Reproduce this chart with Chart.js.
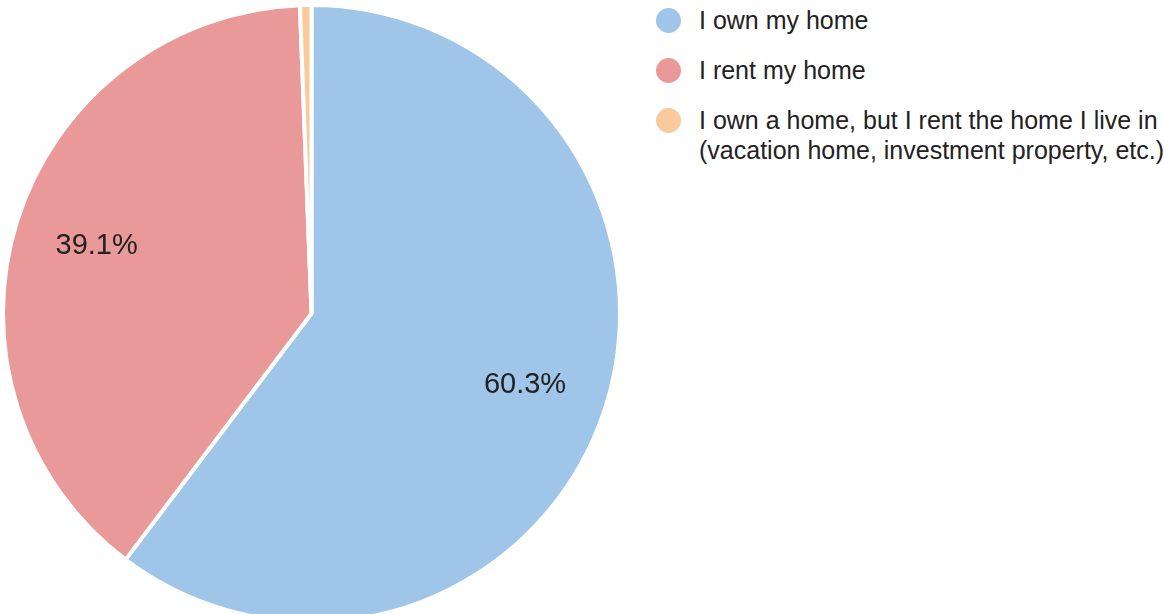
<!DOCTYPE html>
<html>
<head>
<meta charset="utf-8">
<script src="https://cdn.jsdelivr.net/npm/chart.js@4.4.1/dist/chart.umd.min.js"></script>
<style>
  html, body { margin: 0; padding: 0; background: #fff; overflow: hidden; }
  body { width: 1164px; height: 614px; position: relative; font-family: "Liberation Sans", Arial, sans-serif; }
  #wrap { position: absolute; left: 1px; top: 3px; width: 621px; height: 621px; }
  #legend { position: absolute; left: 656px; top: 5px; color: #222; font-size: 25px; }
  .item { position: relative; padding-left: 43px; line-height: 30px; margin-bottom: 20px; }
  .dot { position: absolute; left: 0; top: 3px; width: 25px; height: 25px; border-radius: 50%; }
</style>
</head>
<body>
<div id="wrap"><canvas id="pie"></canvas></div>
<div id="legend"></div>
<script>
const titulos = [
  "I own my home",
  "I rent my home",
  ["I own a home, but I rent the home I live in", "(vacation home, investment property, etc.)"]
];
const valores = [60.3, 39.1, 0.6];
const colores = ["#9fc5e8", "#ea9999", "#f9cb9c"];

const etiquetas = {
  id: "etiquetas",
  afterDatasetsDraw(chart) {
    const ctx = chart.ctx;
    const meta = chart.getDatasetMeta(0);
    const total = valores.reduce((a, b) => a + b, 0);
    ctx.save();
    ctx.font = "29px 'Liberation Sans', Arial, sans-serif";
    ctx.fillStyle = "#222";
    ctx.textAlign = "center";
    ctx.textBaseline = "middle";
    meta.data.forEach((arc, i) => {
      const pct = valores[i] / total * 100;
      if (pct < 5) return;
      const mid = (arc.startAngle + arc.endAngle) / 2;
      const r = arc.outerRadius * 0.73;
      ctx.fillText(valores[i].toFixed(1) + "%", arc.x + Math.cos(mid) * r, arc.y + Math.sin(mid) * r);
    });
    ctx.restore();
  }
};

new Chart(document.getElementById("pie"), {
  type: "pie",
  data: {
    labels: titulos.map(t => Array.isArray(t) ? t.join(" ") : t),
    datasets: [{
      data: valores,
      backgroundColor: colores,
      borderColor: "#ffffff",
      borderWidth: 4
    }]
  },
  options: {
    responsive: true,
    maintainAspectRatio: false,
    animation: false,
    plugins: { legend: { display: false }, tooltip: { enabled: false } }
  },
  plugins: [etiquetas]
});

const legend = document.getElementById("legend");
titulos.forEach((t, i) => {
  const item = document.createElement("div");
  item.className = "item";
  const dot = document.createElement("span");
  dot.className = "dot";
  dot.style.background = colores[i];
  item.appendChild(dot);
  const lines = Array.isArray(t) ? t : [t];
  lines.forEach(l => {
    const d = document.createElement("div");
    d.textContent = l;
    item.appendChild(d);
  });
  legend.appendChild(item);
});
</script>
</body>
</html>
